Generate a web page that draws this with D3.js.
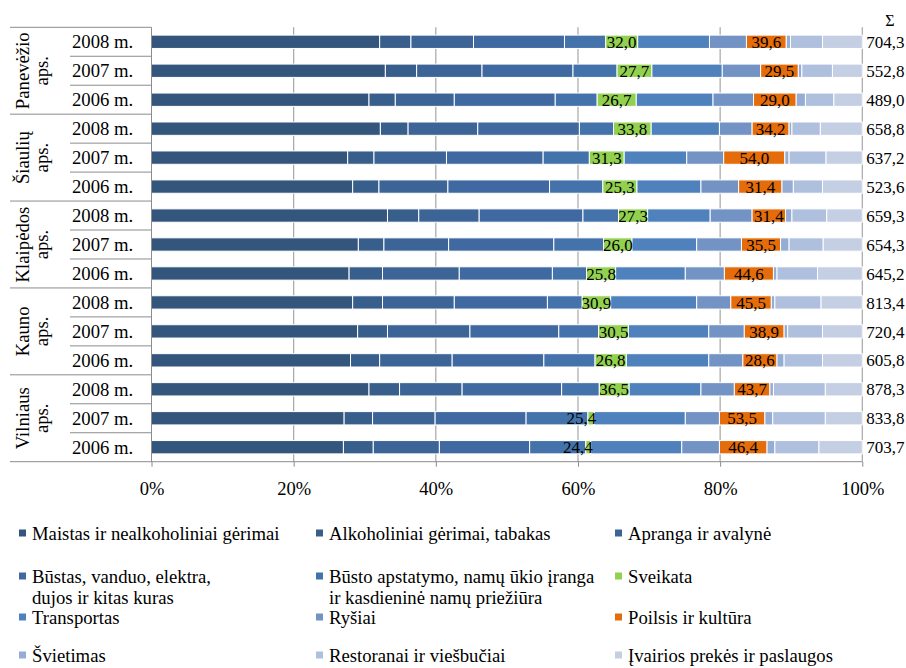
<!DOCTYPE html>
<html>
<head>
<meta charset="utf-8">
<script src="https://cdn.jsdelivr.net/npm/d3@7"></script>
<style>
  body { margin: 0; background: #fff; }
  text { font-family: "Liberation Serif", "Times New Roman", serif; fill: #000; }
</style>
</head>
<body>
<div id="holder"></div>
<script>
// category names (legend order = stack order)
var categories = [
  'Maistas ir nealkoholiniai gėrimai',
  'Alkoholiniai gėrimai, tabakas',
  'Apranga ir avalynė',
  'Būstas, vanduo, elektra,\ndujos ir kitas kuras',
  'Būsto apstatymo, namų ūkio įranga\nir kasdieninė namų priežiūra',
  'Sveikata',
  'Transportas',
  'Ryšiai',
  'Poilsis ir kultūra',
  'Švietimas',
  'Restoranai ir viešbučiai',
  'Įvairios prekės ir paslaugos'
];

var regions = [['Panevėžio', 'aps.'], ['Šiaulių', 'aps.'], ['Klaipėdos', 'aps.'], ['Kauno', 'aps.'], ['Vilniaus', 'aps.']];
var years = ['2008 m.', '2007 m.', '2006 m.'];

// shares (%) of each category, rows top to bottom
var maistas      = [32.1, 32.9, 30.6, 32.2, 27.6, 28.3, 33.2, 29.1, 27.8, 28.3, 29.0, 28.0, 30.6, 27.1, 27.0];
var alkoholiniai = [4.4, 4.4, 3.7, 3.9, 3.7, 3.7, 4.4, 3.6, 4.7, 4.2, 4.2, 4.1, 4.3, 4.0, 4.2];
var apranga      = [8.8, 9.2, 8.3, 9.8, 10.2, 9.7, 8.5, 9.1, 10.8, 10.1, 11.6, 10.2, 8.8, 8.8, 9.3];
var bustas       = [12.8, 12.8, 14.2, 14.3, 13.6, 14.3, 14.6, 14.8, 13.1, 13.1, 12.5, 12.9, 14.0, 12.8, 12.7];
var apstatymas   = [5.8, 6.2, 5.9, 4.8, 6.5, 7.5, 5.0, 7.0, 4.8, 4.9, 5.6, 7.2, 5.3, 8.7, 7.9];
var sveikata     = [4.5, 4.9, 5.5, 5.3, 4.9, 4.8, 4.1, 4.0, 4.1, 4.0, 4.2, 4.4, 4.2, 0.9, 0.7];
var transportas  = [10.1, 9.9, 10.8, 9.6, 8.8, 9.0, 8.8, 9.1, 9.8, 12.1, 11.3, 11.6, 10.1, 12.8, 12.8];
var rysiai       = [5.2, 5.4, 5.7, 4.6, 5.2, 5.3, 5.9, 6.3, 5.5, 4.8, 5.0, 4.8, 4.7, 4.8, 5.3];
var poilsis      = [5.6, 5.3, 6.0, 5.2, 8.6, 6.1, 4.7, 5.5, 6.9, 5.7, 5.6, 4.8, 5.0, 6.4, 6.7];
var svietimas    = [0.6, 0.5, 1.3, 0.4, 0.6, 1.6, 0.9, 1.2, 0.5, 0.5, 0.5, 1.0, 0.5, 1.1, 1.1];
var restoranai   = [4.5, 4.3, 4.0, 4.0, 5.2, 4.1, 4.9, 4.8, 5.7, 6.5, 4.9, 5.4, 7.3, 7.4, 6.2];
var ivairios     = [5.6, 4.2, 4.0, 5.9, 5.1, 5.6, 5.0, 5.5, 6.3, 5.8, 5.6, 5.6, 5.2, 5.2, 6.1];

var sveikataLabels = ['32,0', '27,7', '26,7', '33,8', '31,3', '25,3', '27,3', '26,0', '25,8', '30,9', '30,5', '26,8', '36,5', '25,4', '24,4'];
var poilsisLabels  = ['39,6', '29,5', '29,0', '34,2', '54,0', '31,4', '31,4', '35,5', '44,6', '45,5', '38,9', '28,6', '43,7', '53,5', '46,4'];
var totals = ['704,3', '552,8', '489,0', '658,8', '637,2', '523,6', '659,3', '654,3', '645,2', '813,4', '720,4', '605,8', '878,3', '833,8', '703,7'];
var ticks = [0, 20, 40, 60, 80, 100];

var colors = ['#34557c', '#385e8b', '#3c6496', '#3f69a0', '#4472ab', '#92d050',
              '#4f81bd', '#7393c5', '#e46c0a', '#95acd5', '#afc0de', '#c4cfe4'];

function generateChart() {
  var series = [maistas, alkoholiniai, apranga, bustas, apstatymas, sveikata,
                transportas, rysiai, poilsis, svietimas, restoranai, ivairios];
  var rows = maistas.map(function(d, i) {
    var row = { id: i };
    series.forEach(function(s, k) { row[k] = s[i]; });
    return row;
  });
  var keys = d3.range(categories.length);

  var fullWidth = 906, fullHeight = 668;
  var left = 151.5, right = 862.3, top = 27.3, bottom = 461.7;

  var svg = d3.select('#holder').append('svg')
    .attr('width', fullWidth)
    .attr('height', fullHeight);

  var x = d3.scaleLinear().domain([0, 100]).range([left, right]);
  var y = d3.scaleBand()
    .domain(rows.map(function(d) { return d.id; }))
    .range([top, bottom])
    .paddingInner(0.54)
    .paddingOuter(0.27);
  var step = y.step();

  // gridlines
  svg.append('g').selectAll('line')
      .data(ticks.slice(1))
    .enter().append('line')
      .attr('x1', function(d) { return x(d); })
      .attr('x2', function(d) { return x(d); })
      .attr('y1', top)
      .attr('y2', bottom)
      .attr('stroke', '#a6a6a6')
      .attr('stroke-width', 1.2);

  var stacked = d3.stack().keys(keys)(rows);

  var layers = svg.append('g').selectAll('g.layer')
      .data(stacked)
    .enter().append('g')
      .attr('class', 'layer')
      .attr('fill', function(d) { return colors[d.key]; });

  layers.selectAll('rect')
      .data(function(d) { return d; })
    .enter().append('rect')
      .attr('x', function(d) { return x(d[0]); })
      .attr('width', function(d) { return x(d[1]) - x(d[0]); })
      .attr('y', function(d) { return y(d.data.id); })
      .attr('height', y.bandwidth())
      .attr('stroke', '#fff')
      .attr('stroke-width', 1);

  // value labels for Sveikata (5) and Poilsis (8)
  function addLabels(k, labels) {
    svg.append('g').selectAll('text')
        .data(stacked[k])
      .enter().append('text')
        .attr('x', function(d) {
          var w = x(d[1]) - x(d[0]);
          return w < 24 ? x(d[1]) + 2 : (x(d[0]) + x(d[1])) / 2;
        })
        .attr('y', function(d) { return y(d.data.id) + y.bandwidth() / 2; })
        .attr('dy', '0.36em')
        .attr('text-anchor', function(d) {
          return (x(d[1]) - x(d[0])) < 24 ? 'end' : 'middle';
        })
        .style('font-size', '17px')
        .text(function(d, i) { return labels[i]; });
  }
  addLabels(5, sveikataLabels);
  addLabels(8, poilsisLabels);

  // totals
  svg.append('text')
    .attr('x', 890).attr('y', 20).attr('dy', '0.35em')
    .attr('text-anchor', 'middle')
    .style('font-size', '16px')
    .text('Σ');
  svg.append('g').selectAll('text')
      .data(totals)
    .enter().append('text')
      .attr('x', right + 4)
      .attr('y', function(d, i) { return y(i) + y.bandwidth() / 2; })
      .attr('dy', '0.36em')
      .style('font-size', '17px')
      .text(function(d) { return d; });

  // bottom axis
  var xaxis = d3.axisBottom(x)
    .tickValues(ticks)
    .tickSize(5)
    .tickSizeOuter(0)
    .tickFormat(function(d) { return d + '%'; });
  var ax = svg.append('g')
    .attr('transform', 'translate(0,' + bottom + ')')
    .call(xaxis);
  ax.select('.domain').remove();
  ax.selectAll('line').attr('stroke', '#8c8c8c');
  ax.selectAll('text')
    .attr('y', 20)
    .attr('dy', '0.71em')
    .style('font-family', '"Liberation Serif", "Times New Roman", serif')
    .style('font-size', '18.5px')
    .attr('fill', '#000');
  svg.append('line')
    .attr('x1', 10).attr('x2', right)
    .attr('y1', bottom).attr('y2', bottom)
    .attr('stroke', '#8c8c8c');

  // category table on the left
  var table = svg.append('g');
  table.append('line')
    .attr('x1', left).attr('x2', left)
    .attr('y1', top).attr('y2', bottom)
    .attr('stroke', '#8c8c8c');
  rows.forEach(function(r, i) {
    if (i === 0) return;
    table.append('line')
      .attr('x1', i % 3 === 0 ? 10 : 70).attr('x2', left)
      .attr('y1', top + i * step).attr('y2', top + i * step)
      .attr('stroke', '#8c8c8c');
  });
  table.append('line')
    .attr('x1', 10).attr('x2', left)
    .attr('y1', top).attr('y2', top)
    .attr('stroke', '#8c8c8c');

  table.selectAll('text.year')
      .data(rows)
    .enter().append('text')
      .attr('class', 'year')
      .attr('x', 72)
      .attr('y', function(d) { return y(d.id) + y.bandwidth() / 2; })
      .attr('dy', '0.35em')
      .style('font-size', '18.7px')
      .text(function(d, i) { return years[i % 3]; });

  regions.forEach(function(reg, g) {
    var yc = top + (g * 3 + 1.5) * step;
    reg.forEach(function(line, j) {
      table.append('text')
        .attr('transform', 'translate(' + (29 + j * 19) + ',' + yc + ') rotate(-90)')
        .attr('text-anchor', 'middle')
        .style('font-size', '18.7px')
        .text(line);
    });
  });

  // legend
  var colX = [19, 316, 615];
  var rowY = [533, 576, 617, 655];
  var legend = svg.append('g');
  categories.forEach(function(name, k) {
    var cx = colX[k % 3], cy = rowY[Math.floor(k / 3)];
    legend.append('rect')
      .attr('x', cx).attr('y', cy - 3.5)
      .attr('width', 7).attr('height', 7)
      .attr('fill', colors[k]);
    var t = legend.append('text')
      .attr('x', cx + 13)
      .attr('y', cy)
      .style('font-size', '18.7px');
    name.split('\n').forEach(function(part, j) {
      t.append('tspan')
        .attr('x', cx + 13)
        .attr('dy', j === 0 ? '0.35em' : '21px')
        .text(part);
    });
  });
}

generateChart();
</script>
</body>
</html>
